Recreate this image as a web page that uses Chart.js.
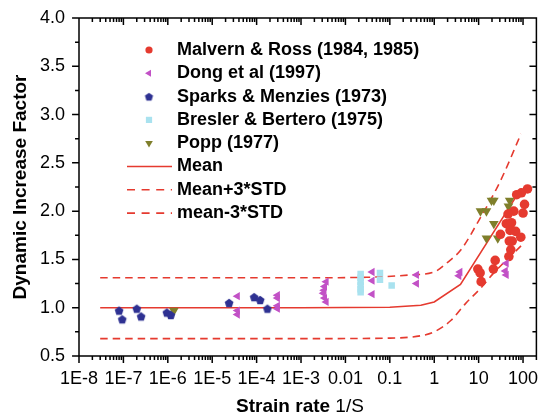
<!DOCTYPE html>
<html><head><meta charset="utf-8">
<script src="https://cdn.jsdelivr.net/npm/chart.js@4/dist/chart.umd.min.js"></script>
<style>html,body{margin:0;padding:0;background:#fff}canvas{display:block}</style>
</head><body>
<canvas id="c" width="542" height="415"></canvas>
<script>
// ---------- data ----------
const malvernRate = [126, 92, 72, 108, 100, 62, 46, 42, 55, 51, 68, 89, 49, 57, 53, 48, 31, 23.6, 21.5, 9.6, 10.8, 11.4];
const malvernDIF  = [2.23, 2.19, 2.17, 2.07, 1.98, 2.0, 1.97, 1.87, 1.88, 1.80, 1.79, 1.73, 1.69, 1.69, 1.60, 1.53, 1.76, 1.49, 1.40, 1.40, 1.36, 1.27];

const dongRate = [3.7e-5, 3.7e-5, 3.7e-5, 2.95e-4, 2.95e-4, 2.95e-4, 2.95e-4, 3.7e-3, 3.4e-3, 3.3e-3, 3.2e-3, 3.4e-3, 3.7e-3, 0.04, 0.04, 0.04, 0.4, 0.4, 3.8, 3.6, 42, 40, 42];
const dongDIF  = [1.12, 0.97, 0.93, 1.13, 1.10, 1.02, 0.99, 1.27, 1.22, 1.18, 1.15, 1.10, 1.06, 1.37, 1.28, 1.14, 1.34, 1.25, 1.37, 1.33, 1.46, 1.38, 1.34];

const sparksRate = [8.0e-8, 9.4e-8, 2.0e-7, 2.5e-7, 9.5e-7, 1.17e-6, 2.4e-5, 8.8e-5, 1.2e-4, 1.75e-4];
const sparksDIF  = [0.97, 0.88, 0.99, 0.91, 0.95, 0.925, 1.05, 1.11, 1.08, 0.99];

const breslerRate = [0.022, 0.022, 0.022, 0.022, 0.022, 0.022, 0.06, 0.06, 0.11];
const breslerDIF  = [1.35, 1.31, 1.27, 1.23, 1.19, 1.16, 1.36, 1.29, 1.23];

const poppRate = [1.37e-6, 19.5, 22, 11, 15, 50, 47, 22, 15, 27];
const poppDIF  = [0.97, 2.11, 2.11, 2.0, 2.0, 2.11, 2.05, 1.87, 1.72, 1.72];

const meanRate = [3e-8, 1e-3, 0.1, 0.5, 1, 3.9, 90];
const meanDIF  = [1.0, 1.0, 1.005, 1.025, 1.06, 1.24, 2.23];

const upperRate = [3e-8, 1e-3, 0.03, 0.3, 1, 2, 4, 10, 30, 90];
const upperDIF  = [1.31, 1.31, 1.315, 1.34, 1.37, 1.47, 1.6, 1.9, 2.3, 2.8];

const lowerRate = [3e-8, 1e-3, 0.1, 0.5, 1, 2.4, 5, 11, 21, 90];
const lowerDIF  = [0.68, 0.68, 0.685, 0.71, 0.75, 0.87, 1.04, 1.2, 1.35, 1.64];

const xDecades = [1e-8, 1e-7, 1e-6, 1e-5, 1e-4, 1e-3, 0.01, 0.1, 1, 10, 100];
const xTickLabels = ['1E-8', '1E-7', '1E-6', '1E-5', '1E-4', '1E-3', '0.01', '0.1', '1', '10', '100'];
const yTickLabels = ['0.5', '1.0', '1.5', '2.0', '2.5', '3.0', '3.5', '4.0'];

const legendLabels = ['Malvern & Ross (1984, 1985)', 'Dong et al (1997)', 'Sparks & Menzies (1973)', 'Bresler & Bertero (1975)', 'Popp (1977)', 'Mean', 'Mean+3*STD', 'mean-3*STD'];

// ---------- helpers ----------
const FONT = '"Liberation Sans", Arial, Helvetica, sans-serif';
const RED = '#e53a2f', MAG = '#c251c6', NAVY = '#2e3192', LBLUE = '#a9e2ef', OLIVE = '#7f7f2b';
const INK = '#000000';
const X_MIN = 1e-8, X_MAX = 200, Y_MIN = 0.5, Y_MAX = 4.0;
const PLOT_W = 461, PLOT_H = 338;           // plot-area size in px (layout below)
const MAJOR_LEN = 7, MINOR_LEN = 4;          // tick lengths in px
const pts = (xs, ys) => xs.map((x, i) => ({x, y: ys[i]}));
function pentagon(r, color) {
  const s = Math.ceil(2 * r + 2);
  const c = document.createElement('canvas');
  c.width = c.height = s;
  const g = c.getContext('2d');
  g.fillStyle = color;
  g.beginPath();
  for (let i = 0; i < 5; i++) {
    const a = -Math.PI / 2 + i * 2 * Math.PI / 5;
    g.lineTo(s / 2 + r * Math.cos(a), s / 2 + r * 0.1 + r * Math.sin(a));
  }
  g.closePath();
  g.fill();
  return c;
}
const pentBig = pentagon(4.6, NAVY);
const pentSmall = pentagon(4.3, NAVY);

const xTickValues = [];
for (let e = -8; e <= 2; e++) {
  for (let m = 1; m <= 9; m++) {
    const v = m * Math.pow(10, e);
    if (v <= 200.0001) xTickValues.push(v);
  }
}
xTickValues.push(200);
const yTickValues = [];
for (let k = 0; k <= 14; k++) yTickValues.push(Y_MIN + k * 0.25);
const isDecade = v => Math.abs(Math.log10(v) - Math.round(Math.log10(v))) < 1e-9;
const isHalf = v => Math.abs(v * 2 - Math.round(v * 2)) < 1e-9;

// axis frame + tick marks as a line series in data space (drawn through the scales)
const uy = (Y_MAX - Y_MIN) / PLOT_H;                 // value per px
const ux = Math.log10(X_MAX / X_MIN) / PLOT_W;       // decades per px
function buildFrame() {
  const d = [];
  const gap = x => d.push({x, y: null});
  d.push({x: X_MIN, y: Y_MIN}, {x: X_MAX, y: Y_MIN}, {x: X_MAX, y: Y_MAX}, {x: X_MIN, y: Y_MAX}, {x: X_MIN, y: Y_MIN});
  gap(X_MIN);
  xTickValues.forEach(v => {
    const L = isDecade(v) ? MAJOR_LEN : MINOR_LEN;
    d.push({x: v, y: Y_MIN}, {x: v, y: Y_MIN - L * uy}); gap(v);
    d.push({x: v, y: Y_MAX}, {x: v, y: Y_MAX - L * uy}); gap(v);
  });
  yTickValues.forEach(v => {
    const L = isHalf(v) ? MAJOR_LEN : MINOR_LEN;
    d.push({x: X_MIN, y: v}, {x: X_MIN * Math.pow(10, -L * ux), y: v}); gap(X_MIN);
    d.push({x: X_MAX, y: v}, {x: X_MAX * Math.pow(10, -L * ux), y: v}); gap(X_MAX);
  });
  return d;
}

const scatterCommon = {showLine: false, borderWidth: 0, order: 1};
const datasets = [
  {label: legendLabels[5], data: pts(meanRate, meanDIF), showLine: true, borderColor: RED, borderWidth: 1.6, pointRadius: 0, tension: 0, order: 10},
  {label: legendLabels[6], data: pts(upperRate, upperDIF), showLine: true, borderColor: RED, borderWidth: 1.6, borderDash: [7.5, 5], pointRadius: 0, cubicInterpolationMode: 'monotone', order: 10},
  {label: legendLabels[7], data: pts(lowerRate, lowerDIF), showLine: true, borderColor: RED, borderWidth: 1.6, borderDash: [7.5, 5], pointRadius: 0, cubicInterpolationMode: 'monotone', order: 10},
  Object.assign({label: legendLabels[3], data: pts(breslerRate, breslerDIF), pointStyle: 'rect', pointRadius: 4.6, backgroundColor: LBLUE, borderColor: LBLUE}, scatterCommon),
  Object.assign({label: legendLabels[2], data: pts(sparksRate, sparksDIF), pointStyle: pentBig, pointRadius: 5, backgroundColor: NAVY, borderColor: NAVY}, scatterCommon),
  Object.assign({label: legendLabels[1], data: pts(dongRate, dongDIF), pointStyle: 'triangle', rotation: -90, pointRadius: 4.8, backgroundColor: MAG, borderColor: MAG}, scatterCommon),
  Object.assign({label: legendLabels[0], data: pts(malvernRate, malvernDIF), pointStyle: 'circle', pointRadius: 4.8, backgroundColor: RED, borderColor: RED}, scatterCommon),
  Object.assign({label: legendLabels[4], data: pts(poppRate, poppDIF), pointStyle: 'triangle', rotation: 180, pointRadius: 5.6, backgroundColor: OLIVE, borderColor: OLIVE}, scatterCommon),
  {label: 'axes', data: buildFrame(), showLine: true, spanGaps: false, borderColor: INK, borderWidth: 1.5,
   borderCapStyle: 'butt', borderJoinStyle: 'miter', pointRadius: 0, tension: 0, clip: false, order: 0}
];

function drawXTitle(chart) {
  const ctx = chart.ctx;
  ctx.save();
  ctx.fillStyle = '#000';
  ctx.textBaseline = 'alphabetic';
  ctx.textAlign = 'left';
  const t1 = 'Strain rate', t2 = ' 1/S';
  ctx.font = 'bold 19px ' + FONT;
  const w1 = ctx.measureText(t1).width;
  ctx.font = '19px ' + FONT;
  const w2 = ctx.measureText(t2).width;
  const sx = 300 - (w1 + w2) / 2;
  ctx.font = 'bold 19px ' + FONT;
  ctx.fillText(t1, sx, 412);
  ctx.font = '19px ' + FONT;
  ctx.fillText(t2, sx + w1, 412);
  ctx.restore();
}

function drawLegend(chart) {
  const ctx = chart.ctx;
  const ds = chart.data.datasets;
  const byLabel = l => ds.find(d => d.label === l);
  const sx = 149, tx = 177, y0 = 50, dy = 23.3;
  legendLabels.forEach((lab, i) => {
    const yy = y0 + i * dy;
    const d = byLabel(lab);
    ctx.save();
    if (i < 5) {
      const opts = {pointStyle: d.pointStyle, rotation: d.rotation || 0, borderWidth: 0, radius: 4};
      if (d.pointStyle === pentBig) opts.pointStyle = pentSmall;
      if (d.pointStyle === 'circle') opts.radius = 3.6;
      if (d.pointStyle === 'rect') opts.radius = 4.4;
      if (d.rotation === 180) opts.radius = 4.4;
      ctx.fillStyle = d.backgroundColor;
      ctx.strokeStyle = d.borderColor;
      Chart.helpers.drawPoint(ctx, opts, sx, yy);
    } else {
      ctx.strokeStyle = d.borderColor;
      ctx.lineWidth = 1.6;
      ctx.setLineDash(i === 5 ? [] : [8, 6.6]);
      ctx.beginPath();
      ctx.moveTo(127, yy);
      ctx.lineTo(172, yy);
      ctx.stroke();
    }
    ctx.restore();
    ctx.save();
    ctx.fillStyle = '#000';
    ctx.font = 'bold 18px ' + FONT;
    ctx.textBaseline = 'middle';
    ctx.textAlign = 'left';
    ctx.fillText(lab, tx, yy);
    ctx.restore();
  });
}

const decor = {
  id: 'decor',
  afterDraw(chart) {
    drawLegend(chart);
    drawXTitle(chart);
  }
};

new Chart(document.getElementById('c'), {
  type: 'scatter',
  data: {datasets},
  options: {
    responsive: false,
    animation: false,
    events: [],
    layout: {padding: {left: 0, right: 2, top: 18, bottom: 0}},
    plugins: {legend: {display: false}, tooltip: {enabled: false}},
    scales: {
      x: {
        type: 'logarithmic', position: 'bottom', min: X_MIN, max: X_MAX,
        grid: {display: false, drawTicks: false},
        border: {display: false},
        afterBuildTicks: s => { s.ticks = xTickValues.map(v => ({value: v})); },
        afterFit: s => { s.height = 59; s.paddingLeft = 0; s.paddingRight = 0; },
        ticks: {
          autoSkip: false, maxRotation: 0, padding: 12, color: '#000',
          font: {size: 18, family: FONT},
          callback: v => {
            const i = xDecades.findIndex(d => Math.abs(d - v) / d < 1e-6);
            return i >= 0 ? xTickLabels[i] : '';
          }
        }
      },
      y: {
        type: 'linear', position: 'left', min: Y_MIN, max: Y_MAX,
        grid: {display: false, drawTicks: false},
        border: {display: false},
        afterFit: s => { s.width = 79; s.paddingTop = 0; s.paddingBottom = 0; },
        title: {display: true, text: 'Dynamic Increase Factor', color: '#000', font: {size: 19, weight: 'bold', family: FONT}, padding: {top: 9, bottom: 0}},
        ticks: {
          stepSize: 0.5, padding: 14, color: '#000',
          font: {size: 18, family: FONT},
          callback: v => {
            const i = Math.round((v - 0.5) / 0.5);
            return yTickLabels[i] !== undefined ? yTickLabels[i] : '';
          }
        }
      }
    }
  },
  plugins: [decor]
});
</script>
</body></html>
